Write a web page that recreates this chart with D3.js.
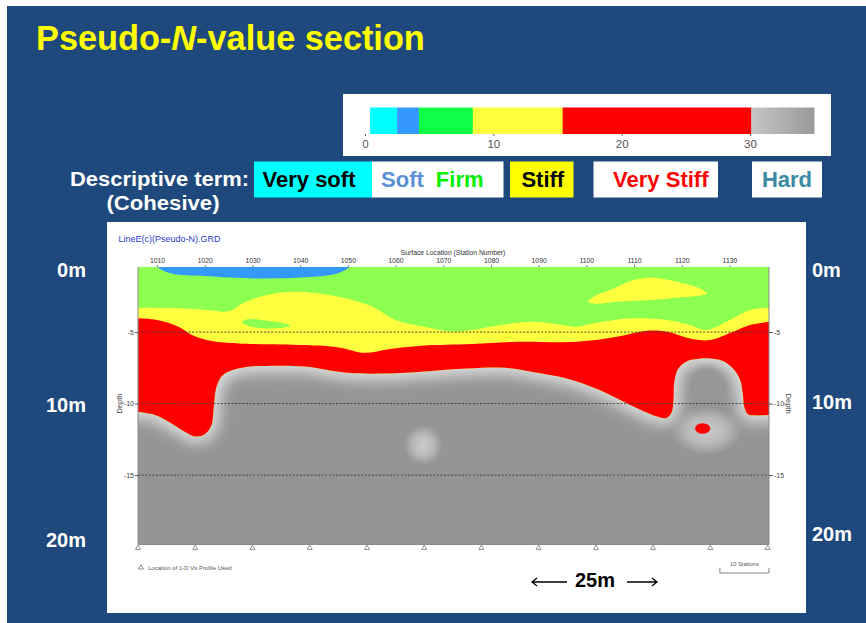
<!DOCTYPE html>
<html>
<head>
<meta charset="utf-8">
<script src="https://cdn.jsdelivr.net/npm/d3@7"></script>
<style>
  body { margin: 0; background: #ffffff; }
  svg { display: block; }
  text { font-family: "Liberation Sans", Arial, Helvetica, sans-serif; }
</style>
</head>
<body>
<svg id="chart" width="866" height="623"></svg>
<script>
// ---------- colour scale (pseudo N-value classes) ----------
const classBreaks = [0.4, 2.5, 4.2, 8.4, 15.4, 30.1, 35];
const classColors = ["#00ffff", "#3399ff", "#10ff48", "#ffff40", "#ff0000", "url(#hardGrad)"];
const colorBarTicks = [0, 10, 20, 30];

// ---------- descriptive terms ----------
const termLabels = ["Very soft", "Soft", "Firm", "Stiff", "Very Stiff", "Hard"];
const termColors = ["#000000", "#5b8fd8", "#00ee00", "#000000", "#ff0000", "#3a88a2"];

// ---------- section extent ----------
const stationExtent = [1006, 1138.3];
const depthExtent = [0.45, 19.85];
const stationTicks = [1010, 1020, 1030, 1040, 1050, 1060, 1070, 1080, 1090, 1100, 1110, 1120, 1130];
const depthTicks = [5, 10, 15];
const profileStations = [1006, 1018, 1030, 1042, 1054, 1066, 1078, 1090, 1102, 1114, 1126, 1138];
const depthMarks = [0, 10, 20];

// ---------- layer interfaces [station, depth m] ----------
// firm / stiff
const stiffTop = [
  [1006, 3.3], [1016, 3.35], [1022, 3.5], [1025, 3.55], [1028.5, 2.9], [1033, 2.4],
  [1038, 2.18], [1043, 2.25], [1049, 2.6], [1055, 3.2], [1060, 4.16], [1065.5, 4.6],
  [1071.4, 4.95], [1076, 4.85], [1082, 4.5], [1089, 4.28], [1094, 4.45], [1098, 4.63],
  [1101.5, 4.39], [1106, 4.15], [1110, 4.04], [1117, 4.16], [1121.7, 4.51], [1125.2, 4.86],
  [1129.4, 4.28], [1134.3, 3.46], [1138.3, 3.3]
];
// stiff / very stiff
const veryStiffTop = [
  [1006, 4.04], [1010, 4.16], [1014.5, 4.63], [1017.3, 5.2], [1021.5, 5.63], [1027, 5.79],
  [1041, 5.91], [1048, 6.07], [1053.6, 6.45], [1058.5, 6.2], [1065.5, 5.96], [1076, 5.84],
  [1085.4, 5.68], [1098, 5.68], [1106.4, 5.33], [1112.7, 4.91], [1116.9, 4.98], [1121.7, 5.44],
  [1125.9, 5.56], [1130.8, 4.98], [1134.3, 4.51], [1138.3, 4.28]
];
// very stiff / hard
const hardTop = [
  [1006, 10.57], [1009.6, 10.8], [1013.1, 11.4], [1016, 12.0], [1018, 12.3], [1020, 12.15],
  [1021.4, 11.5], [1021.9, 10.2], [1022.4, 8.9], [1023.5, 8.1], [1025, 7.75], [1028.4, 7.45],
  [1035, 7.35], [1041, 7.4], [1050, 7.85], [1058, 7.9], [1066, 7.75], [1075, 7.55],
  [1083, 7.5], [1089, 7.8], [1095.9, 8.24], [1102.9, 9.06], [1109.9, 10.2], [1114.8, 10.9],
  [1116.8, 11.0], [1117.9, 10.6], [1118.3, 9.6], [1118.4, 8.6], [1119.2, 7.6], [1121, 7.05],
  [1123.5, 6.86], [1126, 6.84], [1128.5, 7.0], [1130.6, 7.5], [1132.2, 8.3], [1132.8, 9.3],
  [1133.1, 10.2], [1133.9, 10.75], [1135.5, 10.82], [1138.3, 10.8]
];

// ---------- lenses ----------
const softLensBase = [
  [1009.5, 0.2], [1010.5, 0.55], [1013, 0.9], [1020, 1.08], [1030.5, 1.25],
  [1041, 1.17], [1047.3, 0.94], [1050, 0.55], [1051, 0.2]
];
const firmLens = [
  [1027.8, 4.3], [1029, 4.11], [1032, 4.15], [1035.4, 4.32], [1038, 4.55],
  [1035.4, 4.72], [1032, 4.74], [1029, 4.55]
];
const stiffLens = [
  [1100.4, 2.9], [1102, 2.45], [1105, 2.06], [1109.9, 1.36], [1113.4, 1.18], [1119, 1.48],
  [1123.8, 1.95], [1125.3, 2.3], [1123.8, 2.45], [1119, 2.6], [1113.4, 2.76], [1106.4, 2.88], [1102, 3.02]
];
// isolated pockets: [station, depth, half-width (stations), half-height (m)]
const veryStiffPocket = [1124.4, 11.74, 1.6, 0.36];
const softerHardPockets = [[1065.8, 12.9, 4.0, 1.4], [1125.2, 11.9, 7.5, 1.7]];
const hardCore = [1125.4, 8.7, 3.6, 1.25];

// ======================================================
const W = 866, H = 623;
const svg = d3.select("#chart");
const defs = svg.append("defs");

// slide background
svg.append("rect").attr("width", W).attr("height", H).attr("fill", "#ffffff");
svg.append("rect").attr("x", 7).attr("y", 6).attr("width", W - 7).attr("height", H - 6).attr("fill", "#1f497d");

// title
const title = svg.append("text").attr("x", 36).attr("y", 50)
  .attr("fill", "#ffff00").attr("font-size", 34.3).attr("font-weight", "bold");
title.append("tspan").text("Pseudo-");
title.append("tspan").attr("font-style", "italic").text("N");
title.append("tspan").text("-value section");

// ---------- colour bar ----------
const hg = defs.append("linearGradient").attr("id", "hardGrad").attr("x1", 0).attr("x2", 1).attr("y1", 0).attr("y2", 0);
hg.append("stop").attr("offset", 0).attr("stop-color", "#c6c6c6");
hg.append("stop").attr("offset", 1).attr("stop-color", "#999999");

svg.append("rect").attr("x", 343).attr("y", 94).attr("width", 488).attr("height", 62).attr("fill", "#ffffff");
const cb = d3.scaleLinear().domain([0, 30]).range([365, 750]);
const cbG = svg.append("g");
cbG.selectAll("rect").data(classColors).join("rect")
  .attr("x", (d, i) => cb(classBreaks[i]))
  .attr("width", (d, i) => cb(classBreaks[i + 1]) - cb(classBreaks[i]) + 0.3)
  .attr("y", 107.5).attr("height", 26.5)
  .attr("fill", d => d);
const cbAxis = d3.axisBottom(cb).tickValues(colorBarTicks).tickSize(2).tickPadding(4);
const cbAx = svg.append("g").attr("transform", "translate(0,134)").call(cbAxis);
cbAx.select(".domain").remove();
cbAx.selectAll("line").attr("stroke", "#666");
cbAx.selectAll("text").attr("font-size", 11.5).attr("fill", "#555").attr("font-family", "Liberation Sans, Arial, sans-serif");

// ---------- descriptive terms ----------
svg.append("text").attr("x", 249).attr("y", 186).attr("text-anchor", "end")
  .attr("fill", "#ffffff").attr("font-size", 20).attr("font-weight", "bold")
  .attr("textLength", 179).attr("lengthAdjust", "spacingAndGlyphs").text("Descriptive term:");
svg.append("text").attr("x", 163).attr("y", 210).attr("text-anchor", "middle")
  .attr("fill", "#ffffff").attr("font-size", 20).attr("font-weight", "bold")
  .attr("textLength", 113).attr("lengthAdjust", "spacingAndGlyphs").text("(Cohesive)");

const termBoxes = [
  { x: 254, w: 118, fill: "#00ffff" },
  { x: 372, w: 131.5, fill: "#ffffff" },
  { x: 510, w: 63.5, fill: "#ffff00" },
  { x: 593.5, w: 124.5, fill: "#ffffff" },
  { x: 752, w: 70, fill: "#ffffff" }
];
svg.selectAll("rect.term").data(termBoxes).join("rect").attr("class", "term")
  .attr("x", d => d.x).attr("y", 161.5).attr("width", d => d.w).attr("height", 36)
  .attr("fill", d => d.fill);
const termText = [
  { i: 0, x: 309 }, { i: 1, x: 402.5 }, { i: 2, x: 459.7 },
  { i: 3, x: 542.8 }, { i: 4, x: 660.8 }, { i: 5, x: 787 }
];
svg.selectAll("text.term").data(termText).join("text").attr("class", "term")
  .attr("x", d => d.x).attr("y", 187).attr("text-anchor", "middle")
  .attr("font-size", 22).attr("font-weight", "bold")
  .attr("fill", d => termColors[d.i]).text(d => termLabels[d.i]);

// ---------- section panel ----------
svg.append("rect").attr("x", 107).attr("y", 222).attr("width", 699).attr("height", 391).attr("fill", "#ffffff");

const x = d3.scaleLinear().domain(stationExtent).range([138, 769]);
const y = d3.scaleLinear().domain(depthExtent).range([267, 544.5]);
const X0 = x.range()[0], X1 = x.range()[1], Y0 = y.range()[0], Y1 = y.range()[1];

const curve = d3.curveCatmullRom.alpha(0.5);
const line = d3.line().x(d => x(d[0])).y(d => y(d[1])).curve(curve);
const closedLine = d3.line().x(d => x(d[0])).y(d => y(d[1])).curve(d3.curveCatmullRomClosed.alpha(0.5));

defs.append("clipPath").attr("id", "plotClip")
  .append("rect").attr("x", X0).attr("y", Y0).attr("width", X1 - X0).attr("height", Y1 - Y0);

// region lying above the hard-layer interface
function aboveHard(pts) {
  const a = pts[0], b = pts[pts.length - 1];
  return line(pts) + `L${x(b[0])},${Y0 - 40}L${x(a[0])},${Y0 - 40}Z`;
}
// region lying below an interface
function belowLine(pts) {
  const a = pts[0], b = pts[pts.length - 1];
  return line(pts) + `L${x(b[0])},${Y1 + 40}L${x(a[0])},${Y1 + 40}Z`;
}
defs.append("clipPath").attr("id", "upperClip").append("path").attr("d", aboveHard(hardTop));

const blur = defs.append("filter").attr("id", "halo")
  .attr("x", -0.2).attr("y", -0.2).attr("width", 1.4).attr("height", 1.4);
blur.append("feGaussianBlur").attr("stdDeviation", 7);
const blurSmall = defs.append("filter").attr("id", "soften")
  .attr("x", -0.5).attr("y", -0.5).attr("width", 2).attr("height", 2);
blurSmall.append("feGaussianBlur").attr("stdDeviation", 3);

const glow = defs.append("radialGradient").attr("id", "glow");
glow.append("stop").attr("offset", 0).attr("stop-color", "#cdcdcd").attr("stop-opacity", 1);
glow.append("stop").attr("offset", 0.55).attr("stop-color", "#c4c4c4").attr("stop-opacity", 0.75);
glow.append("stop").attr("offset", 1).attr("stop-color", "#c0c0c0").attr("stop-opacity", 0);

const plot = svg.append("g").attr("clip-path", "url(#plotClip)");
plot.append("rect").attr("x", X0).attr("y", Y0).attr("width", X1 - X0).attr("height", Y1 - Y0).attr("fill", "#959595");

// transition band under the very stiff layer
const ext = [[hardTop[0][0] - 12, hardTop[0][1]], ...hardTop, [hardTop[hardTop.length - 1][0] + 12, hardTop[hardTop.length - 1][1]]];
plot.append("path").attr("d", aboveHard(ext))
  .attr("fill", "#dadada").attr("stroke", "#dadada").attr("stroke-width", 14)
  .attr("filter", "url(#halo)");

// softer pockets inside the hard layer
plot.selectAll("ellipse.soft").data(softerHardPockets).join("ellipse").attr("class", "soft")
  .attr("cx", d => x(d[0])).attr("cy", d => y(d[1]))
  .attr("rx", d => x(d[0] + d[2]) - x(d[0])).attr("ry", d => y(d[1] + d[3]) - y(d[1]))
  .attr("fill", "url(#glow)");
plot.append("ellipse")
  .attr("cx", x(hardCore[0])).attr("cy", y(hardCore[1]))
  .attr("rx", x(hardCore[0] + hardCore[2]) - x(hardCore[0])).attr("ry", y(hardCore[1] + hardCore[3]) - y(hardCore[1]))
  .attr("fill", "#979797").attr("filter", "url(#soften)");

// very stiff pocket
plot.append("ellipse")
  .attr("cx", x(veryStiffPocket[0])).attr("cy", y(veryStiffPocket[1]))
  .attr("rx", x(veryStiffPocket[0] + veryStiffPocket[2]) - x(veryStiffPocket[0]))
  .attr("ry", y(veryStiffPocket[1] + veryStiffPocket[3]) - y(veryStiffPocket[1]))
  .attr("fill", "#ff0000");

// firm, stiff and very stiff layers above the hard interface
const upper = plot.append("g").attr("clip-path", "url(#upperClip)");
upper.append("rect").attr("x", X0 - 5).attr("y", Y0 - 5).attr("width", X1 - X0 + 10).attr("height", Y1 - Y0 + 10).attr("fill", "#8cff50");
upper.append("path").attr("d", belowLine(stiffTop)).attr("fill", "#ffff40");
upper.append("path").attr("d", belowLine(veryStiffTop)).attr("fill", "#ff0000");

// lenses
plot.append("path").attr("d", closedLine(firmLens)).attr("fill", "#8cff50");
plot.append("path").attr("d", closedLine(stiffLens)).attr("fill", "#ffff40");
{
  const a = softLensBase[0], b = softLensBase[softLensBase.length - 1];
  plot.append("path")
    .attr("d", line(softLensBase) + `L${x(b[0])},${Y0 - 10}L${x(a[0])},${Y0 - 10}Z`)
    .attr("fill", "#3399ff");
}

// depth grid
const grid = svg.append("g");
grid.selectAll("line").data(depthTicks).join("line")
  .attr("x1", X0).attr("x2", X1).attr("y1", d => y(d)).attr("y2", d => y(d))
  .attr("stroke", "#3a3a3a").attr("stroke-width", 0.9).attr("stroke-dasharray", "2,1.6");

// frame
svg.append("path")
  .attr("d", `M${X0},${Y0}V${Y1}H${X1}V${Y0}`)
  .attr("fill", "none").attr("stroke", "#8a8a8a").attr("stroke-width", 1);

// station axis (top)
const topAx = svg.append("g").attr("transform", `translate(0,${Y0})`)
  .call(d3.axisTop(x).tickValues(stationTicks).tickFormat(d3.format("d")).tickSize(2).tickPadding(2));
topAx.select(".domain").remove();
topAx.selectAll("line").attr("stroke", "#777");
topAx.selectAll("text").attr("font-size", 6.8).attr("fill", "#333").attr("font-family", "Liberation Sans, Arial, sans-serif");

svg.append("text").attr("x", 453).attr("y", 254.5).attr("text-anchor", "middle")
  .attr("font-size", 6.8).attr("fill", "#333").text("Surface Location (Station Number)");
svg.append("text").attr("x", 118.5).attr("y", 242).attr("font-size", 9)
  .attr("fill", "#2b3bd0").text("LineE(c)(Pseudo-N).GRD");

// depth axes
const fmtDepth = d => "-" + d;
const leftAx = svg.append("g").attr("transform", `translate(${X0},0)`)
  .call(d3.axisLeft(y).tickValues(depthTicks).tickFormat(fmtDepth).tickSize(3).tickPadding(1));
const rightAx = svg.append("g").attr("transform", `translate(${X1},0)`)
  .call(d3.axisRight(y).tickValues(depthTicks).tickFormat(fmtDepth).tickSize(4).tickPadding(1));
[leftAx, rightAx].forEach(ax => {
  ax.select(".domain").remove();
  ax.selectAll("line").attr("stroke", "#555");
  ax.selectAll("text").attr("font-size", 7).attr("fill", "#444").attr("font-family", "Liberation Sans, Arial, sans-serif");
});
svg.append("text").attr("transform", `translate(122,${y(10)}) rotate(-90)`).attr("text-anchor", "middle")
  .attr("font-size", 7.5).attr("fill", "#444").text("Depth");
svg.append("text").attr("transform", `translate(786,${y(10)}) rotate(90)`).attr("text-anchor", "middle")
  .attr("font-size", 7.5).attr("fill", "#444").text("Depth");

// 1-D Vs profile locations
const tri = d3.symbol().type(d3.symbolTriangle).size(11);
svg.selectAll("path.prof").data(profileStations).join("path").attr("class", "prof")
  .attr("d", tri).attr("transform", d => `translate(${x(d)},${Y1 + 3.5})`)
  .attr("fill", "#ffffff").attr("stroke", "#777").attr("stroke-width", 0.8);
svg.append("path").attr("d", tri).attr("transform", "translate(141,567.5)")
  .attr("fill", "#ffffff").attr("stroke", "#777").attr("stroke-width", 0.8);
svg.append("text").attr("x", 148).attr("y", 570).attr("font-size", 6).attr("fill", "#555")
  .text("Location of 1-D Vs Profile Used");

// 10-station scale bar
const sb0 = x(stationExtent[1] - 10.3), sb1 = x(stationExtent[1]);
svg.append("path").attr("d", `M${sb0},568V573H${sb1}V568`).attr("fill", "none").attr("stroke", "#666").attr("stroke-width", 0.8);
svg.append("text").attr("x", (sb0 + sb1) / 2).attr("y", 566).attr("text-anchor", "middle")
  .attr("font-size", 5.8).attr("fill", "#555").text("10 Stations");

// 25 m annotation
svg.append("text").attr("x", 595).attr("y", 587).attr("text-anchor", "middle")
  .attr("font-size", 20).attr("font-weight", "bold").attr("fill", "#000").text("25m");
svg.append("path").attr("d", "M567,582H532M537,578L532,582L537,586M627,582H657M652,578L657,582L652,586")
  .attr("fill", "none").attr("stroke", "#000").attr("stroke-width", 1.3);

// depth annotations either side
const markY = d3.scaleLinear().domain([0, 20]).range([277, 547]);
svg.selectAll("text.mL").data(depthMarks).join("text").attr("class", "mL")
  .attr("x", 86).attr("y", d => markY(d)).attr("text-anchor", "end")
  .attr("font-size", 20).attr("font-weight", "bold").attr("fill", "#ffffff").text(d => d + "m");
const markYR = d3.scaleLinear().domain([0, 20]).range([277, 541]);
svg.selectAll("text.mR").data(depthMarks).join("text").attr("class", "mR")
  .attr("x", 812).attr("y", d => markYR(d)).attr("text-anchor", "start")
  .attr("font-size", 20).attr("font-weight", "bold").attr("fill", "#ffffff").text(d => d + "m");
</script>
</body>
</html>
